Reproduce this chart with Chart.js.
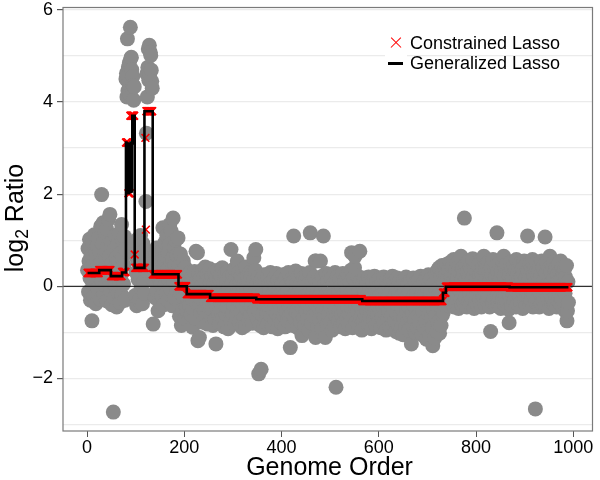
<!DOCTYPE html>
<html>
<head>
<meta charset="utf-8">
<script src="https://cdn.jsdelivr.net/npm/chart.js@4/dist/chart.umd.min.js"></script>
<style>
  body { margin: 0; background: #fff; }
  #wrap { position: relative; width: 600px; height: 480px; font-family: "Liberation Sans", Arial, sans-serif; color: #000; }
  #c { position: absolute; left: 0; top: 0; }
  .ytitle { position: absolute; left: -136px; top: 203px; width: 300px; height: 30px; line-height: 30px;
            text-align: center; font-size: 25px; transform: rotate(-90deg); }
  .ytitle sub { font-size: 0.7em; vertical-align: -0.3em; line-height: 0; }
  .xtitle { position: absolute; left: 63px; top: 451px; width: 533px; height: 30px; line-height: 30px;
            text-align: center; font-size: 25px; }
  #legend { position: absolute; left: 385px; top: 32.6px; font-size: 18px; }
  #legend .row { position: relative; height: 20.7px; line-height: 20.7px; padding-left: 25px; white-space: nowrap; }
  #legend .key { position: absolute; left: 0; top: 0; width: 22px; height: 20.7px; background: #fff; }
  #legend .x1, #legend .x2 { position: absolute; left: 4px; top: 9.7px; width: 14px; height: 1.3px; background: #ff0000; }
  #legend .x1 { transform: rotate(45deg); }
  #legend .x2 { transform: rotate(-45deg); }
  #legend .ln { position: absolute; left: 3px; top: 8.5px; width: 15px; height: 3px; background: #000; }
</style>
</head>
<body>
<div id="wrap">
  <canvas id="c" width="600" height="480"></canvas>
  <div class="ytitle">log<sub>2</sub> Ratio</div>
  <div class="xtitle">Genome Order</div>
  <div id="legend">
    <div class="row"><span class="key"><i class="x1"></i><i class="x2"></i></span>Constrained Lasso</div>
    <div class="row"><span class="key"><i class="ln"></i></span>Generalized Lasso</div>
  </div>
</div>
<script>
// axis ticks
var xTicks = [0, 200, 400, 600, 800, 1000];
var xTickLabels = ['0', '200', '400', '600', '800', '1000'];
var yTicks = [-3, -2, -1, 0, 1, 2, 3, 4, 5, 6];
var yTickLabels = ['', '\u22122', '', '0', '', '2', '', '4', '', '6'];
var xMin = -49.5, xMax = 1039.5, yMin = -3.14, yMax = 6.05;

// log2 ratio, genome order 1..990
var log2Ratio = [
  // 1-79
  0.35, 0.82, -0.12, 0.55, 1.02, 0.18, -0.30, 0.66, 0.41, -0.75,
  0.95, 0.05, 0.48, -0.22, 1.12, 0.30, 0.72, -0.38, 0.60, 0.12,
  0.88, -0.05, 0.45, 1.05, 0.20, 0.76, -0.28, 1.30, 0.52, 1.99,
  0.10, 0.92, 1.38, 0.36, -0.18, 0.70, 1.18, 0.02, 0.58, 1.25,
  -0.32, 0.84, 0.40, 1.45, 0.15, 0.65, 1.56, -0.10, 0.30, 0.95,
  -0.40, 0.50, 0.08, -2.73, 0.78, -0.25, 0.42, 1.10, 0.00, 0.62,
  -0.45, 0.35, 0.90, -0.15, 0.55, 1.15, 0.12, -0.35, 0.72, 0.25,
  1.34, -0.20, 0.60, 0.98, 0.05, 0.45, 1.08, -0.30, 0.80,
  // 80-97 first spike
  4.50, 4.62, 4.11, 5.37, 4.24, 4.76, 4.40, 4.85, 4.18, 5.62,
  4.95, 4.97, 4.70, 4.30, 4.55, 4.36, 4.04, 4.33,
  // 98-120
  0.72, -0.20, 0.95, 0.30, -0.42, 0.60, 1.02, 0.15, 0.50, -0.30,
  0.85, 0.25, 1.10, -0.05, 0.68, 0.40, -0.38, 0.92, 0.10, 0.55,
  -0.15, 0.78, 0.35,
  // 121-134 second spike
  1.84, 3.32, 4.61, 4.11, 4.75, 5.15, 4.47, 5.23, 4.62, 5.08,
  5.01, 4.69, 4.45, 4.30,
  // 135-187
  0.40, -0.82, 0.65, 0.10, 0.52, -0.25, 0.75, 0.30, 0.83, -0.10,
  0.45, -0.53, 0.62, 0.18, 0.70, -0.35, 0.38, 0.05, 0.58, -0.20,
  0.80, 1.27, 0.22, -0.40, 0.48, 0.95, 0.02, 0.66, -0.15, 1.10,
  0.35, -0.30, 0.72, 0.15, 0.90, 1.34, -0.05, 0.55, 1.20, 0.28,
  -0.42, 0.60, 1.48, 0.12, 0.85, -0.25, 0.45, 1.00, 0.20, -0.10,
  0.68, 0.32, 1.05,
  // 188-204
  -0.30, 0.45, -0.65, 0.20, 0.70, -0.15, -0.85, 0.35, 0.05, -0.50,
  0.55, -0.25, 0.15, -0.70, 0.40, -0.05, -0.45,
  // 205-252
  0.10, -0.55, 0.25, -0.30, -0.75, 0.05, -0.40, 0.30, -0.10, -0.62,
  0.18, -0.25, -0.89, 0.22, -0.48, -0.05, 0.32, -0.70, -0.20, 0.76,
  -0.35, 0.12, 0.73, -1.18, -0.15, 0.28, -1.11, -0.42, 0.15, -0.60,
  0.00, -0.28, 0.35, -0.78, -0.08, 0.20, -0.52, -0.18, 0.42, -0.68,
  0.08, -0.35, 0.25, -0.82, -0.12, 0.15, -0.45, 0.38,
  // 253-347
  -0.40, 0.10, -0.65, -0.15, 0.22, -0.50, -0.85, 0.05,
  -0.30, 0.30, -0.72, -0.10, -1.25, 0.18, -0.45, -0.20, 0.35, -0.60,
  -0.02, -0.80, 0.15, -0.35, 0.25, -0.55, -0.12, 0.40, -0.70, -0.25,
  0.08, -0.88, -0.38, 0.28, -0.15, -0.62, 0.12, -0.45, 0.32, -0.92,
  -0.05, -0.52, 0.20, -0.30, -0.75, 0.80, -0.18, 0.05, -0.58, 0.25,
  -0.40, -0.08, 0.38, -0.82, -0.22, 0.15, -0.65, 0.02, 0.55, -0.48,
  -0.15, 0.30, -0.78, -0.32, 0.10, -0.55, 0.22, -0.20, -0.90, 0.35,
  -0.42, 0.00, -0.68, 0.18, -0.28, -0.85, 0.42, -0.10, -0.50, 0.20,
  -0.35, -0.75, 0.08, -0.18, 0.30, -0.60, -0.05, -0.42, 0.25, -0.80,
  -0.22, 0.12, 0.62, -0.55, -0.15, 0.35, 0.80,
  // 348-565
  -0.45, 0.05, -0.70, -0.20, 0.20, -1.90, -0.55, -0.05, -0.85, 0.12,
  -1.80, -0.35, 0.18, -0.62, -0.12, -0.90, 0.25, -0.40, -0.15, -0.75,
  0.08, -0.30, -0.58, 0.22, -0.82, -0.22, 0.02, -0.48, -0.10, 0.30,
  -0.65, -0.38, 0.10, -0.88, -0.18, -0.52, 0.15, -0.30, -0.72, 0.00,
  -0.42, 0.28, -0.60, -0.25, -0.92, 0.12, -0.35, -0.08, -0.68, 0.20,
  -0.50, -0.15, -0.80, 0.05, -0.32, 0.25, -0.62, -0.20, -0.45, -0.88,
  0.18, -0.28, -0.55, 0.02, -0.75, -0.12, 0.30, -0.40, -0.65, -0.05,
  -1.33, -0.35, 0.15, -0.58, -0.22, -0.85, 0.10, 1.09, -0.48, -0.18,
  -0.70, 0.33, -0.30, -0.55, 0.08, -0.90, -0.15, 0.22, -0.62, -0.40,
  0.00, -0.78, -0.25, 0.28, -1.07, -0.45, -0.10, 0.18, -0.68, -0.32,
  -0.85, 0.12, -0.20, -0.55, 0.25, -0.72, -0.38, 0.05, -0.95, -0.15,
  0.30, 1.16, -0.50, -0.28, -0.80, 0.10, -0.42, -0.12, -0.65, 0.20,
  -0.35, 0.55, -1.11, 0.55, -0.60, -0.18, -0.88, 0.15, -0.45, -0.25,
  -0.72, 0.08, 0.55, -0.38, -0.10, -0.92, 0.22, -0.55, 1.09, -0.30,
  -0.68, 0.02, -1.11, -0.20, 0.28, -0.50, -0.82, 0.12, -0.35, -0.62,
  -0.05, 0.25, -0.78, -0.42, -0.15, 0.18, -0.95, -0.28, 0.05, -0.58,
  -0.20, -0.85, 0.30, -0.48, -2.19, 0.10, -0.68, -0.32, 0.22, -0.75,
  -0.12, -0.52, 0.15, -0.88, -0.25, 0.00, -0.62, -0.40, 0.28, -0.80,
  -0.18, -0.55, 0.12, -0.92, -0.35, 0.20, -0.70, -0.08, -0.45, 0.25,
  -0.82, -0.28, -0.60, 0.08, -0.15, 0.35, 0.73, -0.50, -0.90, -0.22,
  0.18, -0.65, 0.40, 0.65, -0.38, -0.78, 0.05, -0.30, -0.55, 0.22,
  -0.85, -0.12, -0.42, 0.76, 0.10, -0.68, -0.25, -0.95,
  // 566-731
  -0.50, 0.05, -0.75, -0.25, 0.18, -0.60, -0.10, -0.88, -0.38, 0.12,
  -0.55, -0.20, -0.82, 0.20, -0.42, -0.05, -0.68, -0.30, 0.15, -0.92,
  -0.15, -0.48, 0.08, -0.72, -0.35, 0.22, -0.58, -0.12, -0.85, -0.28,
  0.10, -0.62, -0.40, -0.02, -0.78, -0.22, 0.18, -0.52, -0.90, -0.32,
  0.05, -0.68, -0.18, -0.45, 0.20, -0.80, -0.35, -0.08, -0.60, -0.95,
  0.12, -0.42, -0.25, -0.72, 0.02, -0.55, -0.15, -0.88, 0.15, -0.38,
  -0.65, -0.10, 0.22, -0.82, -0.30, -0.50, 0.08, -0.75, -0.20, -0.98,
  -0.05, -0.58, 0.18, -0.40, -0.85, -0.15, -1.02, 0.10, -0.62, -0.28,
  -0.92, 0.00, -0.48, -0.18, -1.05, 0.15, -0.70, -0.35, -0.12, -0.88,
  0.20, -0.55, -0.25, -0.78, 0.05, -0.42, -0.95, -0.10, -0.65, 0.12,
  -0.32, -1.25, -0.05, -0.58, -0.85, 0.18, -0.40, -0.20, -0.72, -1.00,
  0.08, -0.50, -0.15, -0.90, -0.30, 0.15, -0.62, -0.02, -0.80, -0.45,
  0.22, -0.68, -0.25, -1.05, -0.10, -0.55, 0.10, -0.88, -0.38, -0.15,
  -0.75, 0.18, -1.15, -0.45, -0.05, -0.95, 0.25, -0.60, -0.28, -1.08,
  -0.12, 0.15, -0.70, -0.35, -0.90, -1.29, 0.05, -0.52, -0.20, -1.12,
  0.28, -0.65, -0.08, -0.98, -0.40, 0.35, -0.78, -0.18, 0.40, -1.02,
  -0.30, 0.20, -0.85, -0.50, 0.45, -0.62,
  // 732-737
  0.30, -0.55, 0.10, -0.40, 0.45, -0.20,
  // 738-990
  0.25, -0.30, 0.48, -0.10, 0.15, -0.42, 0.35, -0.20, 0.05, 0.52,
  -0.35, 0.20, -0.05, 0.42, -0.28, 0.10, 0.58, -0.45, 0.28, -0.15,
  0.38, -0.38, 0.02, 0.50, -0.22, 0.18, -0.48, 0.32, -0.08, 0.45,
  -0.30, 0.65, 0.12, -0.40, 0.40, -0.12, 0.25, -0.35, 1.48, 0.05,
  -0.25, 0.48, 0.15, -0.45, 0.30, -0.02, 0.55, -0.32, 0.20, -0.15,
  0.42, -0.40, 0.08, 0.35, -0.28, 0.60, -0.10, 0.22, -0.48, 0.38,
  0.00, -0.35, 0.50, 0.15, -0.20, 0.32, -0.42, 0.45, -0.08, 0.25,
  -0.30, 0.10, 0.55, -0.45, 0.28, -0.15, 0.40, -0.25, 0.65, 0.05,
  -0.38, 0.35, -0.10, 0.48, 0.18, -0.32, 0.02, 0.52, -0.22, 0.30,
  -0.45, 0.12, -0.98, 0.42, -0.15, 0.25, -0.35, 0.58, 0.08, -0.28,
  0.38, -0.05, 0.20, -0.42, 0.45, 1.16, -0.20, 0.32, -0.38, 0.10,
  0.50, -0.25, 0.15, -0.48, 0.35, 0.00, -0.30, 0.55, -0.12, 0.65,
  0.22, -0.40, 0.40, -0.18, 0.05, 0.48, -0.35, 0.28, -0.08, -0.50,
  -0.79, 0.30, -0.22, 0.52, 0.10, -0.42, 0.38, -0.15, 0.18, -0.32,
  0.45, 0.02, -0.28, 0.35, -0.45, 0.58, -0.10, 0.25, -0.38, 0.12,
  0.42, -0.20, 0.05, 0.50, -0.35, 0.20, -0.05, 0.38, -0.48, 0.28,
  -0.15, 0.55, -0.30, 0.10, 0.45, -0.42, 0.22, -0.08, 1.09, 0.32,
  -0.25, 0.15, -0.40, 0.48, 0.00, -0.32, 0.38, -0.12, 0.58, -0.45,
  0.25, -0.18, 0.42, 0.08, -2.66, -0.35, 0.30, 0.52, -0.05, -0.28,
  0.35, 0.12, -0.45, 0.45, -0.15, 0.20, -0.38, 0.55, 0.02, -0.22,
  0.40, -0.32, 0.15, 0.48, 1.07, -0.42, 0.28, -0.10, 0.50, -0.25,
  0.05, 0.38, -0.48, 0.22, 0.65, -0.15, 0.32, -0.35, 0.10, 0.45,
  -0.28, 0.18, 0.52, -0.40, 0.00, 0.35, -0.20, 0.42, -0.45, 0.25,
  0.08, -0.32, 0.48, -0.12, 0.30, -0.38, 0.55, 0.15, -0.25, 0.40,
  -0.42, 0.05, 0.28, -0.50, 0.38, -0.15, 0.20, -0.55, 0.45, -0.75,
  -0.53, 0.10, -0.35
];

// generalized lasso fit: level starts at each break (genome order)
var glassoBreaks = [1, 25, 49, 72, 80, 81, 82, 83, 84, 85, 86, 87, 88, 89, 90, 91, 92, 93, 98, 118, 135, 188, 205, 253, 348, 566, 732, 738, 869];
var glassoLevels = [0.29, 0.35, 0.22, 0.30, 3.12, 2.05, 3.10, 2.08, 3.05, 2.02, 3.10, 2.10, 3.08, 2.05, 3.12, 2.06, 3.10, 3.70, 0.40, 3.80, 0.26, 0.00, -0.17, -0.25, -0.28, -0.32, -0.14, -0.01, -0.02];

// constrained lasso fit
var classoBreaks = [1, 25, 49, 72, 80, 85, 89, 98, 99, 120, 121, 122, 135, 188, 205, 253, 348, 566, 732, 738, 869];
var classoLevels = [0.29, 0.35, 0.22, 0.31, 3.12, 2.02, 3.70, 0.69, 0.40, 3.22, 1.23, 3.80, 0.26, 0.00, -0.17, -0.25, -0.28, -0.32, -0.14, -0.01, -0.02];

var levelAt = function(breaks, levels, x){
  var v = levels[0];
  for (var i = 0; i < breaks.length; i++){
    if (breaks[i] <= x) v = levels[i];
  }
  return v;
};

var nObs = log2Ratio.length;
var grayPts = log2Ratio.map(function(v, i){ return {x: i + 1, y: v}; });
var classoPts = log2Ratio.map(function(v, i){ return {x: i + 1, y: levelAt(classoBreaks, classoLevels, i + 1)}; });
var glassoPts = glassoBreaks.map(function(b, i){ return {x: b, y: glassoLevels[i]}; });
glassoPts.push({x: nObs, y: glassoLevels[glassoLevels.length - 1]});

var frame = {
  id: 'frame',
  afterDraw: function(chart){
    var a = chart.chartArea, ctx = chart.ctx;
    ctx.save();
    ctx.strokeStyle = '#7a7a7a';
    ctx.lineWidth = 1.2;
    ctx.strokeRect(a.left, a.top, a.right - a.left, a.bottom - a.top);
    ctx.restore();
  }
};

var tickFont = {family: "'Liberation Sans', Arial, sans-serif", size: 18};

new Chart(document.getElementById('c'), {
  type: 'scatter',
  data: {
    datasets: [
      // stepped 'before': horizontal at each level until the next break
      {label: 'Generalized Lasso', type: 'line', data: glassoPts, stepped: 'before', borderColor: '#000', borderWidth: 2.6, pointRadius: 0, fill: false, order: 0},
      {label: 'Constrained Lasso', data: classoPts, pointStyle: 'crossRot', pointRadius: 5.5, borderColor: '#ff0000', backgroundColor: '#ff0000', borderWidth: 1.6, order: 1},
      {label: 'zero', type: 'line', data: [{x: xMin, y: 0}, {x: xMax, y: 0}], borderColor: '#000', borderWidth: 1, pointRadius: 0, order: 2},
      {label: 'log2 ratio', data: grayPts, pointRadius: 7.5, backgroundColor: '#8a8a8a', borderWidth: 0, order: 3}
    ]
  },
  options: {
    responsive: false,
    animation: false,
    events: [],
    layout: {padding: {top: 6, right: 4, left: 0, bottom: 0}},
    plugins: {legend: {display: false}, tooltip: {enabled: false}},
    scales: {
      x: {
        type: 'linear', min: xMin, max: xMax,
        afterBuildTicks: function(s){ s.ticks = xTicks.map(function(v){ return {value: v}; }); },
        afterFit: function(s){ s.height = 49; s.paddingLeft = 0; s.paddingRight = 0; },
        ticks: {
          font: tickFont, color: '#000', padding: 0, maxRotation: 0, autoSkip: false,
          callback: function(v){ var i = xTicks.indexOf(v); return i >= 0 ? xTickLabels[i] : ''; }
        },
        grid: {drawOnChartArea: false, drawTicks: true, tickLength: 6, tickColor: '#555'},
        border: {display: false}
      },
      y: {
        type: 'linear', min: yMin, max: yMax,
        afterBuildTicks: function(s){ s.ticks = yTicks.map(function(v){ return {value: v}; }); },
        afterFit: function(s){ s.width = 63; s.paddingTop = 0; s.paddingBottom = 0; },
        ticks: {
          font: tickFont, color: '#000', padding: 4, autoSkip: false,
          callback: function(v){ var i = yTicks.indexOf(v); return i >= 0 ? yTickLabels[i] : ''; }
        },
        grid: {
          color: '#ebebeb', lineWidth: 1.2, tickLength: 6,
          tickColor: function(ctx){ return (ctx.tick && ctx.tick.value % 2 === 0) ? '#555' : 'rgba(0,0,0,0)'; }
        },
        border: {display: false}
      }
    }
  },
  plugins: [frame]
});
</script>
</body>
</html>
